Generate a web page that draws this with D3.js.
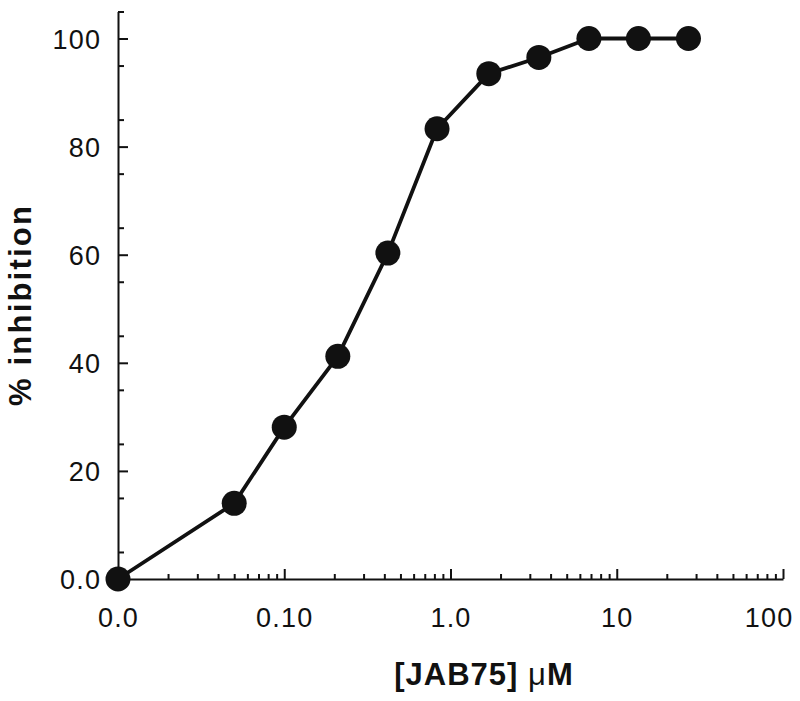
<!DOCTYPE html>
<html>
<head>
<meta charset="utf-8">
<script src="https://cdn.jsdelivr.net/npm/d3@7"></script>
<style>
  body { margin: 0; background: #fff; }
  svg { display: block; font-family: "Liberation Sans", Arial, sans-serif; }
</style>
</head>
<body>
<div id="chart"></div>
<script>
// concentration (uM); first point is the 0.0 control plotted at the axis origin
const conc = [0.01, 0.05, 0.1, 0.21, 0.42, 0.83, 1.7, 3.4, 6.8, 13.5, 27];
const inhibition = [0, 14, 28.1, 41.2, 60.3, 83.3, 93.5, 96.5, 100, 100, 100];

const xTickValues = [0.01, 0.1, 1, 10, 100];
const xTickLabels = ["0.0", "0.10", "1.0", "10", "100"];
const yTickValues = [0, 20, 40, 60, 80, 100];
const yTickLabels = ["0.0", "20", "40", "60", "80", "100"];

const width = 800, height = 701;
const ink = "#111";

const svg = d3.select("#chart").append("svg")
  .attr("width", width)
  .attr("height", height);

const x = d3.scaleLog().domain([0.01, 100]).range([118, 783]);
const y = d3.scaleLinear().domain([0, 105]).range([579, 11.5]);

// minor ticks
const xMinor = [];
[0.01, 0.1, 1, 10].forEach(d => { for (let k = 2; k <= 9; k++) xMinor.push(d * k); });
const yMinor = d3.range(5, 106, 10);

// x axis - ticks point up into the plot
svg.append("g")
  .attr("transform", `translate(0,${y(0)})`)
  .call(d3.axisBottom(x).tickValues(xMinor).tickSize(-5).tickSizeOuter(0).tickFormat(""))
  .call(g => g.select(".domain").remove());

const xAxis = svg.append("g")
  .attr("transform", `translate(0,${y(0)})`)
  .call(d3.axisBottom(x).tickValues(xTickValues).tickSize(-10).tickSizeOuter(0)
    .tickPadding(29).tickFormat((d, i) => xTickLabels[i]));

// y axis - ticks point right into the plot
svg.append("g")
  .attr("transform", `translate(${x(0.01)},0)`)
  .call(d3.axisLeft(y).tickValues(yMinor).tickSize(-6).tickSizeOuter(0).tickFormat(""))
  .call(g => g.select(".domain").remove());

const yAxis = svg.append("g")
  .attr("transform", `translate(${x(0.01)},0)`)
  .call(d3.axisLeft(y).tickValues(yTickValues).tickSize(-10).tickSizeOuter(0)
    .tickPadding(18).tickFormat((d, i) => yTickLabels[i]));

svg.selectAll(".domain").attr("stroke", ink).attr("stroke-width", 2);
svg.selectAll(".tick line").attr("stroke", ink).attr("stroke-width", 2);
svg.selectAll(".tick text")
  .attr("font-family", "'Liberation Sans', Arial, sans-serif")
  .attr("font-size", 27)
  .attr("letter-spacing", 1.2)
  .attr("fill", ink);
yAxis.selectAll(".tick text").attr("dy", "0.36em").attr("dx", 1.2);
// last x label is pulled in so it stays on the page
xAxis.selectAll(".tick text").filter(d => d === 100)
  .attr("text-anchor", "end").attr("dx", 10);

// data line and markers
const points = conc.map((c, i) => ({ c, v: inhibition[i] }));

svg.append("path")
  .datum(points)
  .attr("fill", "none")
  .attr("stroke", ink)
  .attr("stroke-width", 3.8)
  .attr("stroke-linejoin", "round")
  .attr("d", d3.line().x(d => x(d.c)).y(d => y(d.v)));

svg.selectAll(".dot")
  .data(points)
  .enter()
  .append("circle")
  .attr("class", "dot")
  .attr("cx", d => x(d.c))
  .attr("cy", d => y(d.v))
  .attr("r", 12.5)
  .attr("fill", ink);

// axis titles
svg.append("text")
  .attr("transform", `translate(31,${305}) rotate(-90)`)
  .attr("text-anchor", "middle")
  .attr("font-size", 31)
  .attr("font-weight", "bold")
  .attr("letter-spacing", 2.2)
  .attr("fill", ink)
  .text("% inhibition");

const xt = svg.append("text")
  .attr("x", 484)
  .attr("y", 685)
  .attr("text-anchor", "middle")
  .attr("font-size", 31)
  .attr("font-weight", "bold")
  .attr("letter-spacing", 1)
  .attr("fill", ink);
xt.append("tspan").text("[JAB75] ");
xt.append("tspan").attr("font-weight", "normal").text("μ");
xt.append("tspan").text("M");
</script>
</body>
</html>
